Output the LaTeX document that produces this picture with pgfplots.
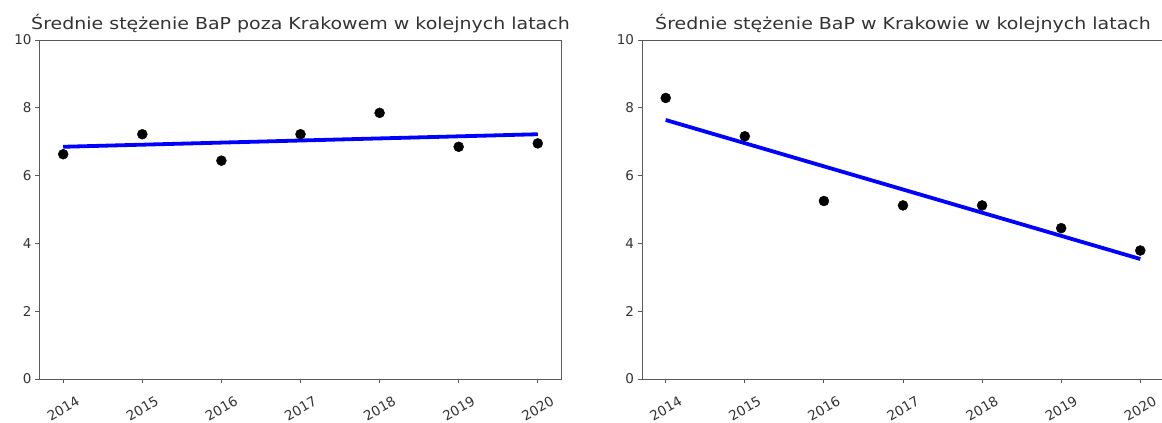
\documentclass[border=0pt]{standalone}
\usepackage{pgfplots}
\pgfplotsset{compat=1.18}
\usepackage{fontspec}
\setmainfont{DejaVu Sans}

\definecolor{txt}{gray}{0.2}
\definecolor{fitblue}{RGB}{0,0,255}

\pgfplotsset{
  bap/.style={
    scale only axis,
    width=522pt, height=339pt,
    xmin=2013.7, xmax=2020.3,
    ymin=0, ymax=10,
    xtick={2014,2015,2016,2017,2018,2019,2020},
    xticklabels={2014,2015,2016,2017,2018,2019,2020},
    ytick={0,2,4,6,8,10},
    axis line style={black!65, line width=0.9pt},
    tick style={black!65, line width=0.9pt},
    tick align=outside,
    major tick length=4.5pt,
    xtick pos=bottom, ytick pos=left,
    /pgf/number format/assume math mode=true,
    tick label style={font=\fontsize{13.5}{15}\selectfont, text=txt},
    xticklabel style={yshift=-25pt, rotate=30, anchor=center},
    title style={font=\fontsize{16.5}{19}\selectfont, text=txt, xscale=1.15, yshift=-2pt},
    clip=false,
  },
  fit/.style={fitblue, line width=3.8pt, no markers},
  pts/.style={only marks, mark=*, mark size=5pt, black, mark options={fill=black}},
}

\begin{document}
\begin{tikzpicture}
\useasboundingbox (0,0) rectangle (1162pt,423pt);

% lewy wykres
\begin{axis}[bap, at={(39.5pt,44pt)}, anchor=south west,
  title={Średnie stężenie BaP poza Krakowem w kolejnych latach}]
\addplot[fit] coordinates {(2014,6.85) (2020,7.22)};
\addplot[pts] coordinates {
(2014,6.63) (2015,7.22) (2016,6.44) (2017,7.22) (2018,7.85) (2019,6.85) (2020,6.95)
};
\end{axis}

% prawy wykres
\begin{axis}[bap, at={(642pt,44pt)}, anchor=south west,
  title={Średnie stężenie BaP w Krakowie w kolejnych latach}]
\addplot[fit] coordinates {(2014,7.64) (2020,3.54)};
\addplot[pts] coordinates {
(2014,8.29) (2015,7.16) (2016,5.25) (2017,5.12) (2018,5.12) (2019,4.45) (2020,3.79)
};
\end{axis}
\end{tikzpicture}
\end{document}
